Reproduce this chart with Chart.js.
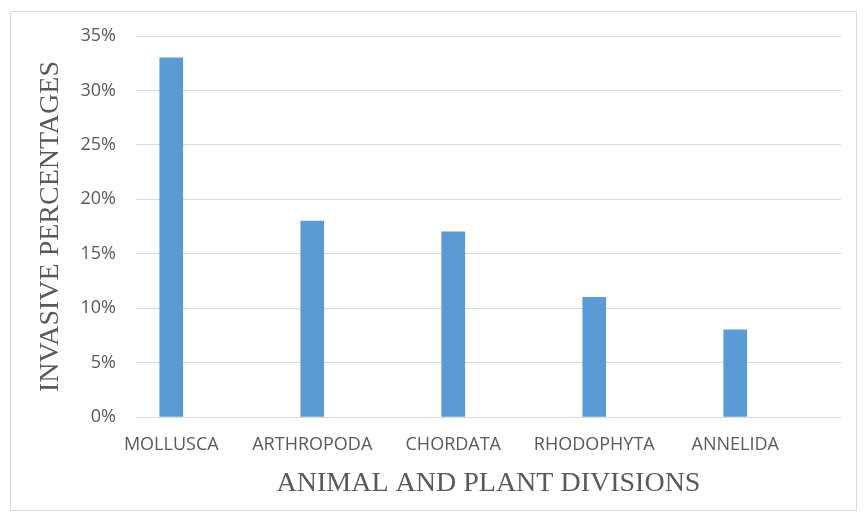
<!DOCTYPE html>
<html>
<head>
<meta charset="utf-8">
<script src="https://cdn.jsdelivr.net/npm/chart.js@4"></script>
<style>
  html, body { margin: 0; padding: 0; background: #ffffff; }
  #frame {
    position: absolute;
    left: 10px;
    top: 11px;
    width: 845px;
    height: 498px;
    border: 1px solid #d9d9d9;
  }
</style>
</head>
<body>
<div id="frame"><canvas id="chart"></canvas></div>
<script>
// data
const divisions = ["MOLLUSCA", "ARTHROPODA", "CHORDATA", "RHODOPHYTA", "ANNELIDA"];
const invasivePct = [33, 18, 17, 11, 8];
const yTicksMax = 35;
const yTicksStep = 5;

const textGray = "#595959";
const gridGray = "#d9d9d9";
const barBlue = "#5b9bd5";

// bars sit on index positions of a linear axis (shifted left in the original)
const points = invasivePct.map((v, i) => ({ x: i, y: v }));

const ctx = document.getElementById('chart').getContext('2d');
new Chart(ctx, {
    type: 'bar',
    data: {
        datasets: [{
            label: 'Invasive percentages',
            data: points,
            backgroundColor: barBlue,
            borderWidth: 0,
            barThickness: 23
        }]
    },
    options: {
        responsive: true,
        maintainAspectRatio: false,
        animation: false,
        layout: {
            padding: { top: 24, right: 15, left: 0, bottom: 0 }
        },
        scales: {
            x: {
                type: 'linear',
                offset: false,
                min: -0.25,
                max: 4.75,
                grid: { display: false },
                border: { display: false },
                afterBuildTicks: (scale) => {
                    scale.ticks = divisions.map((d, i) => ({ value: i }));
                },
                ticks: {
                    autoSkip: false,
                    maxRotation: 0,
                    padding: 9,
                    color: textGray,
                    font: { family: "'Open Sans'", size: 18 },
                    callback: (v) => divisions[v]
                },
                title: {
                    display: true,
                    text: 'ANIMAL AND PLANT DIVISIONS',
                    color: textGray,
                    font: { family: "'Liberation Serif'", size: 28 },
                    padding: { top: 0, bottom: 10 }
                },
                afterFit: (scale) => { scale.height = 93; }
            },
            y: {
                min: 0,
                max: yTicksMax,
                grid: {
                    color: gridGray,
                    lineWidth: 1,
                    drawTicks: true,
                    tickLength: 18,
                    tickColor: 'rgba(0,0,0,0)'
                },
                border: { display: false },
                ticks: {
                    stepSize: yTicksStep,
                    padding: 2,
                    color: textGray,
                    font: { family: "'Open Sans'", size: 18 },
                    callback: (v) => v + '%'
                },
                title: {
                    display: true,
                    text: 'INVASIVE PERCENTAGES',
                    color: textGray,
                    font: { family: "'Liberation Serif'", size: 28 },
                    padding: { top: 23, bottom: 0 }
                },
                afterFit: (scale) => { scale.width = 125; }
            }
        },
        plugins: {
            legend: { display: false },
            tooltip: { enabled: false }
        }
    }
});
</script>
</body>
</html>
